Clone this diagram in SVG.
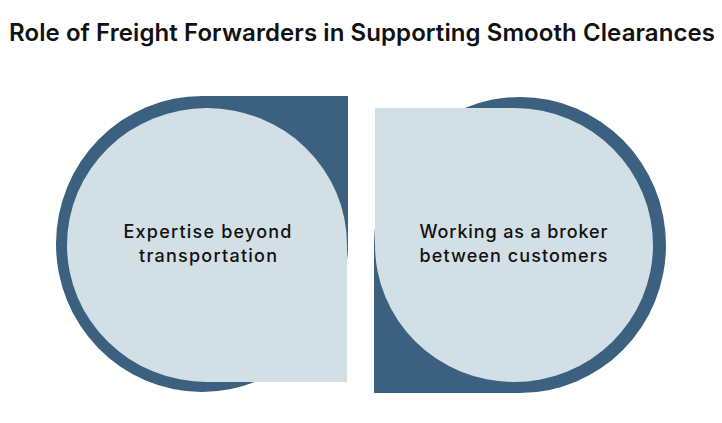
<svg xmlns="http://www.w3.org/2000/svg" width="722" height="423" viewBox="0 0 722 423">
<style>
.dark{fill:#3c6180}
.light{fill:#d2dfe5}
.lbl{font-family:Inter,"Liberation Sans",sans-serif;font-size:18px;font-weight:500;fill:#111;text-anchor:middle}
.title{font-family:Inter,"Liberation Sans",sans-serif;font-size:24px;font-weight:600;fill:#111;text-anchor:middle}
</style>
<rect width="722" height="423" fill="#fff"/>
<text class="title" x="362" y="41" textLength="706">Role of Freight Forwarders in Supporting Smooth Clearances</text>
<g id="node-left">
<path class="dark" d="M348,96 L348,245 A146,148 0 1 1 202,96 Z"/>
<path class="light" d="M347,382 L207,382 A140,137 0 1 1 347,245 Z"/>
<text class="lbl" x="207.5" y="238" textLength="168">Expertise beyond</text>
<text class="lbl" x="208" y="262" textLength="138">transportation</text>
</g>
<g id="node-right">
<path class="dark" d="M374,393 L374,245 A146,148 0 1 1 520,393 Z"/>
<path class="light" d="M375,108 L515,108 A139,137 0 1 1 375,245 Z"/>
<text class="lbl" x="513.5" y="238" textLength="188">Working as a broker</text>
<text class="lbl" x="513.5" y="262" textLength="188">between customers</text>
</g>
<g id="connectors"/>
</svg>
